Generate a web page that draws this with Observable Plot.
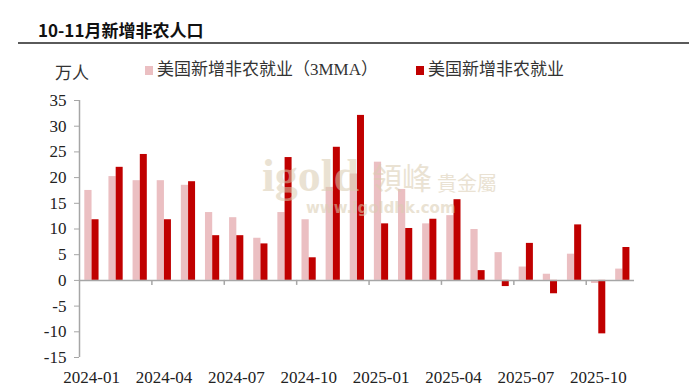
<!DOCTYPE html>
<html>
<head>
<meta charset="utf-8">
<script src="https://cdn.jsdelivr.net/npm/d3@7"></script>
<script src="https://cdn.jsdelivr.net/npm/@observablehq/plot@0.6"></script>
<style>
  html, body { margin: 0; padding: 0; background: #fff; }
  #wrap { position: relative; width: 700px; height: 389px; overflow: hidden; }
  #header { position: relative; width: 700px; height: 88px; }
  .abs { position: absolute; white-space: nowrap; line-height: 1; }
  #title { left: 38px; top: 21px; font-family: "Noto Sans CJK SC", sans-serif; font-weight: 700; font-size: 17px; color: #111; }
  #rule { left: 18px; top: 42px; width: 671px; height: 2px; background: #5a5a5a; }
  .leg { font-family: "Liberation Serif", "Noto Sans CJK SC", serif; font-size: 17px; color: #333; top: 61px; }
  .sw { position: absolute; width: 8px; height: 9px; top: 66px; }
  #unit { left: 55px; top: 63px; font-family: "Noto Sans CJK SC", serif; font-size: 17px; color: #333; }
  .wm { position: absolute; white-space: nowrap; line-height: 1; color: #d9ccb0; opacity: 0.55; pointer-events: none; }
</style>
</head>
<body>
<div id="wrap">
  <div id="header">
    <div id="title" class="abs">10-11月新增非农人口</div>
    <div id="rule" class="abs"></div>
    <div id="unit" class="abs">万人</div>
    <div class="sw" style="left:145px;background:#ebbfc2"></div>
    <div class="leg abs" style="left:157px">美国新增非农就业（3MMA）</div>
    <div class="sw" style="left:416px;background:#c00000"></div>
    <div class="leg abs" style="left:428px">美国新增非农就业</div>
  </div>
  <div id="chart"></div>
  <div class="wm" style="left:262px;top:153px;font-family:'Liberation Serif',serif;font-size:46px;font-weight:700;">igold</div>
  <div class="wm" style="left:372px;top:161px;font-family:'Noto Sans CJK TC',serif;font-size:30px;">領峰</div>
  <div class="wm" style="left:437px;top:173px;font-family:'Noto Sans CJK TC',serif;font-size:20px;">貴金屬</div>
  <div class="wm" style="left:306px;top:201px;font-family:'DejaVu Sans',sans-serif;font-size:15px;font-weight:700;">www.igoldhk.com</div>
</div>
<script>
const months = ["2024-01","2024-02","2024-03","2024-04","2024-05","2024-06","2024-07","2024-08","2024-09","2024-10","2024-11","2024-12",
                "2025-01","2025-02","2025-03","2025-04","2025-05","2025-06","2025-07","2025-08","2025-09","2025-10","2025-11"];
const mma3 = [17.5, 20.2, 19.4, 19.4, 18.5, 13.2, 12.2, 8.2, 13.2, 11.8, 18.1, 20.7,
              23.0, 17.7, 11.0, 12.6, 9.9, 5.4, 2.6, 1.2, 5.1, -0.6, 2.2];
const nfp = [11.8, 22.0, 24.5, 11.8, 19.2, 8.7, 8.7, 7.1, 23.9, 4.4, 25.9, 32.1,
             11.0, 10.1, 11.9, 15.7, 1.9, -1.2, 7.2, -2.6, 10.8, -10.4, 6.4];
const yTicks = [-15, -10, -5, 0, 5, 10, 15, 20, 25, 30, 35];
const xLabelMonths = ["2024-01","2024-04","2024-07","2024-10","2025-01","2025-04","2025-07","2025-10"];

const idx = months.map((m, i) => i);
const tickPos = xLabelMonths.slice(1).map(m => months.indexOf(m));
const labelPos = xLabelMonths.map(m => months.indexOf(m));
const axisGray = "#a6a6a6";

const chart = Plot.plot({
  width: 700,
  height: 301,
  marginLeft: 79,
  marginRight: 66,
  marginTop: 12,
  marginBottom: 32,
  style: { fontFamily: "'Liberation Serif', 'Times New Roman', serif", fontSize: "17px", color: "#222", background: "transparent" },
  x: { domain: [0, months.length], axis: null },
  y: { domain: [-15, 35], axis: null },
  marks: [
    Plot.rect(idx, { x1: i => i + 0.22, x2: i => i + 0.52, y1: 0, y2: i => mma3[i], fill: "#ebbfc2" }),
    Plot.rect(idx, { x1: i => i + 0.52, x2: i => i + 0.81, y1: 0, y2: i => nfp[i], fill: "#c00000" }),
    Plot.ruleY([0], { x1: 0, x2: months.length, stroke: axisGray, strokeWidth: 1.5 }),
    Plot.ruleX([0], { y1: -15, y2: 35, stroke: axisGray, strokeWidth: 1.5 }),
    Plot.ruleX(tickPos, { x: d => d, y1: 0, y2: 0, insetBottom: -5, stroke: axisGray, strokeWidth: 1.5 }),
    Plot.axisY({ ticks: yTicks, tickSize: 5, tickPadding: 8, stroke: axisGray, fill: "#222", tickFormat: d => String(d), fontSize: 17 }),
    Plot.text(labelPos, { x: d => d + 0.5, y: -15, dy: 20, text: d => months[d], fill: "#222", fontSize: 17 })
  ]
});
document.getElementById("chart").appendChild(chart);
</script>
</body>
</html>
